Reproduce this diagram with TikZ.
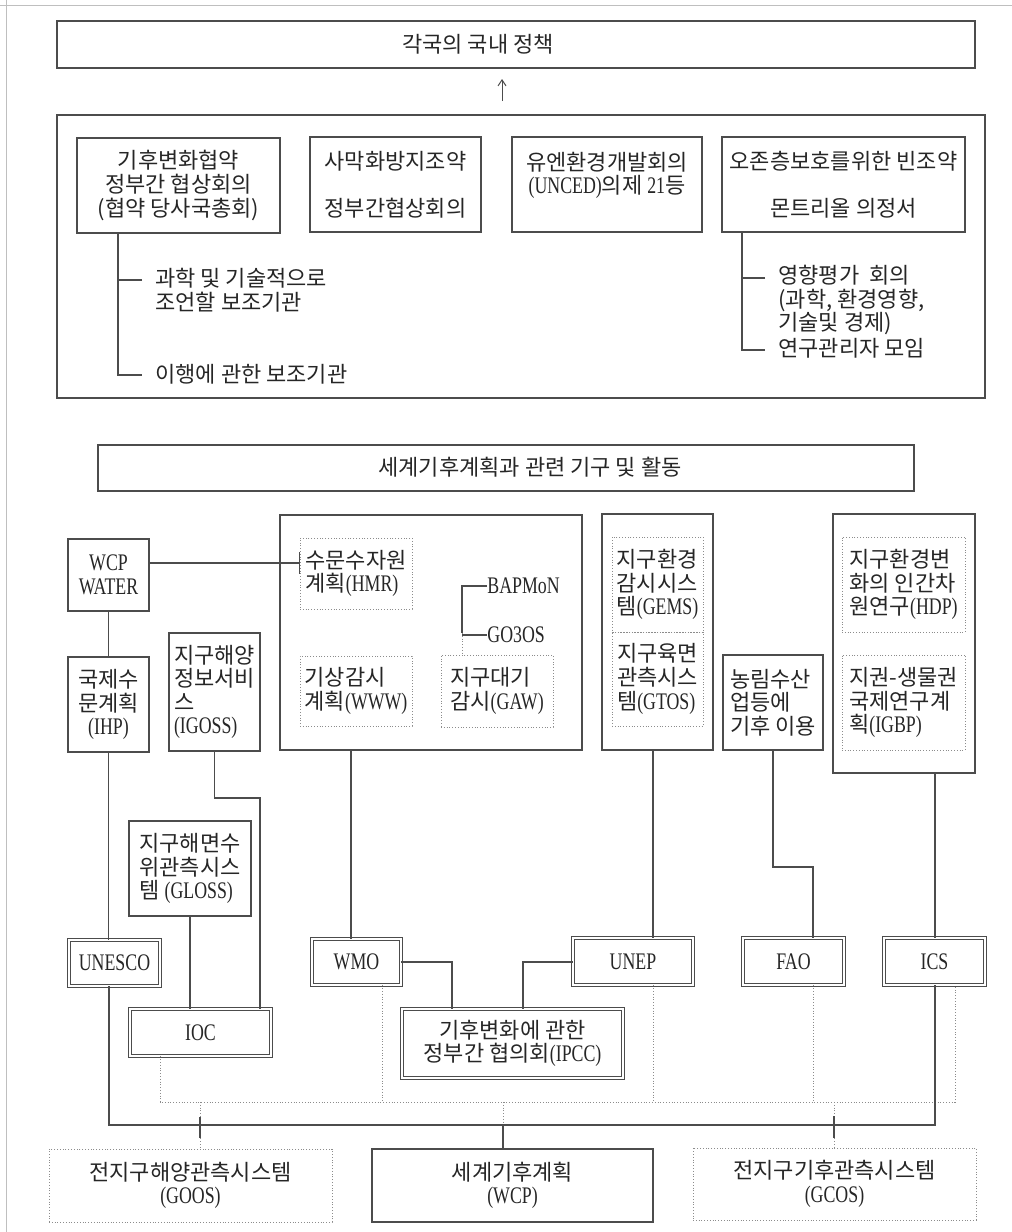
\documentclass[tikz,border=0pt]{standalone}
\usepackage{fontspec}
\setmainfont{Noto Sans CJK KR}
\newfontfamily\latf[FakeStretch=0.75, Scale=1.08]{Liberation Serif}
\newcommand\enx[1]{{\latf #1}}
\newcommand\kfont{\fontsize{11}{11.8}\selectfont}
\usetikzlibrary{arrows.meta}
\tikzset{
  spanbox/.style n args={4}{at={({(#1+#3)/2},{(#2+#4)/2})}, minimum width={(#3-#1)*0.5pt}, minimum height={(#4-#2)*0.5pt}},
  conn/.style={draw=black!70, line width=0.6pt},
  dconn/.style={draw=black!45, line width=0.5pt, dash pattern=on 0.5pt off 0.9pt},
  box/.style={rectangle, draw=black!70, line width=0.6pt, inner sep=0pt, font=\kfont, text=black!85, anchor=center},
  dbox/.style={box, double, double distance=1.1pt, line width=0.45pt},
  dotbox/.style={rectangle, draw=black!45, line width=0.5pt, dash pattern=on 0.5pt off 0.9pt, inner sep=0pt, font=\kfont, text=black!85, anchor=center},
  txt/.style={inner sep=0pt, font=\kfont, text=black!85},
  lat/.style={font=\kfont\latf},
}
\begin{document}
\begin{tikzpicture}[x=0.5pt,y=-0.5pt]
\useasboundingbox (0,0) rectangle (1012,1232);
% scan border
\draw[black!25, line width=0.4pt] (0,5) -- (1012,5);
\draw[black!25, line width=0.4pt] (6,0) -- (6,1232);

% ---------- upper part ----------
\node[box, spanbox={57}{21}{975}{68}] (top) {};
\node[txt] (toptxt) at (478,44) {각국의 국내 정책};
\coordinate (arS) at (502,101);
\coordinate (arE) at (502,79);
\draw[conn, line width=0.5pt, -{Straight Barb[length=3pt,width=4pt]}] (arS) -- (arE);

\node[box, spanbox={57}{115}{985}{398}] (upper) {};
\node[box, spanbox={77}{138}{280}{233}, align=center] (b1) {기후변화협약\\정부간 협상회의\\(협약 당사국총회)};
\node[box, spanbox={310}{137}{481}{232}, align=center] (b2) {사막화방지조약\\\mbox{}\\정부간협상회의};
\node[box, spanbox={512}{137}{702}{232}, align=center] (b3) {유엔환경개발회의\\\enx{(UNCED)}의제 \enx{21}등\\\mbox{}};
\node[box, spanbox={722}{137}{965}{232}, align=center] (b4) {오존층보호를위한 빈조약\\\mbox{}\\몬트리올 의정서};

\coordinate (lk) at (118,375);
\coordinate (l1) at (142,280);
\coordinate (l2) at (142,375);
\draw[conn] (b1.south -| lk) -- (lk) -- (l2);
\draw[conn] (l1) -- (l1 -| lk);
\node[txt, anchor=west, align=left] (t1) at (155,290) {과학 및 기술적으로\\조언할 보조기관};
\node[txt, anchor=west] (t2) at (155,374) {이행에 관한 보조기관};

\coordinate (rk) at (742,350);
\coordinate (r1) at (765,278);
\coordinate (r2) at (765,350);
\draw[conn] (b4.south -| rk) -- (rk) -- (r2);
\draw[conn] (r1) -- (r1 -| rk);
\node[txt, anchor=west, align=left] (t3) at (778,300) {영향평가~~회의\\(과학, 환경영향,\\기술및 경제)};
\node[txt, anchor=west] (t4) at (778,348) {연구관리자 모임};

% ---------- middle part ----------
\node[box, spanbox={98}{445}{914}{491}] (midt) {};
\node[txt] (midtxt) at (530,467) {세계기후계획과 관련 기구 및 활동};

\node[box, lat, spanbox={68}{539}{149}{611}, align=center] (wcpw) {WCP\\WATER};
\node[box, spanbox={68}{657}{149}{752}, align=center] (ihp) {국제수\\문계획\\\enx{(IHP)}};
\node[box, spanbox={169}{633}{260}{751}, align=left] (igoss) {지구해양\\정보서비\\스\\\enx{(IGOSS)}};
\node[box, spanbox={129}{821}{251}{916}, align=left] (gloss) {지구해면수\\위관측시스\\템 \enx{(GLOSS)}};

\node[box, spanbox={280}{515}{582}{750}] (wmoG) {};
\node[dotbox, spanbox={300}{538}{412}{609}, align=left] (hmr) {수문수자원\\계획\enx{(HMR)}};
\node[dotbox, spanbox={300}{656}{412}{726}, align=left] (www) {기상감시\\계획\enx{(WWW)}};
\node[dotbox, spanbox={441}{655}{553}{727}, align=left] (gaw) {지구대기\\감시\enx{(GAW)}};
\node[txt, lat, anchor=west] (bap) at (487,586) {BAPMoN};
\node[txt, lat, anchor=west] (go3) at (487,635) {GO3OS};
\coordinate (bk) at (462,586);
\coordinate (bm) at (462,633);
\draw[conn] (bap.west) -- (bk) -- (bm);
\draw[dconn] (bm) -- (gaw.north -| bk);
\draw[conn] (go3.west) -- (go3.west -| bk);

\node[box, spanbox={602}{514}{713}{750}] (gems) {};
\node[dotbox, spanbox={612}{537}{703}{632}, align=left] (gemsA) {지구환경\\감시시스\\템\enx{(GEMS)}};
\node[dotbox, spanbox={612}{632}{703}{726}, align=left] (gemsB) {지구육면\\관측시스\\템\enx{(GTOS)}};
\node[box, spanbox={723}{655}{823}{750}, align=left] (agri) {농림수산\\업등에\\기후 이용};
\node[box, spanbox={833}{514}{975}{773}] (rgrp) {};
\node[dotbox, spanbox={842}{537}{965}{632}, align=left] (hdp) {지구환경변\\화의 인간차\\원연구\enx{(HDP)}};
\node[dotbox, spanbox={842}{655}{965}{750}, align=left] (igbp) {지권-생물권\\국제연구계\\획\enx{(IGBP)}};

% WCP WATER -> HMR
\coordinate (hy) at (0,563);
\draw[conn] (wcpw.east |- hy) -- (hmr.west |- hy);
\draw[conn] ([yshift=5.5pt]hmr.west |- hy) -- ([yshift=-5.5pt]hmr.west |- hy);

% ---------- organisations ----------
\node[dbox, lat, spanbox={69}{940}{160}{986}] (unesco) {UNESCO};
\node[dbox, lat, spanbox={130}{1009}{271}{1056}] (ioc) {IOC};
\node[dbox, lat, spanbox={312}{939}{401}{985}] (wmo) {WMO};
\node[dbox, spanbox={402}{1009}{623}{1078}, align=center] (ipcc) {기후변화에 관한\\정부간 협의회\enx{(IPCC)}};
\node[dbox, lat, spanbox={573}{938}{693}{985}] (unep) {UNEP};
\node[dbox, lat, spanbox={743}{938}{844}{985}] (fao) {FAO};
\node[dbox, lat, spanbox={884}{938}{985}{985}] (ics) {ICS};

% bottom systems
\node[dotbox, spanbox={49}{1149}{332}{1222}, align=center] (goos) {전지구해양관측시스템\\\enx{(GOOS)}};
\node[box, spanbox={372}{1149}{653}{1222}, align=center] (wcp) {세계기후계획\\\enx{(WCP)}};
\node[dotbox, spanbox={693}{1148}{976}{1220}, align=center] (gcos) {전지구기후관측시스템\\\enx{(GCOS)}};

% left connectors
\draw[conn] (wcpw.south) -- (ihp.north);
\draw[conn] (ihp.south) -- (ihp.south |- unesco.north);
\coordinate (ig) at (260,798);
\draw[conn] (igoss.south) |- (ig) -- (ig |- ioc.north);
\draw[conn] (gloss.south) -- (gloss.south |- ioc.north);

% middle connectors
\coordinate (wx) at (351,750);
\draw[conn] (wmoG.south -| wx) -- (wmo.north -| wx);
\coordinate (wi) at (452,962);
\draw[conn] (wmo.east |- wi) -- (wi) -- (wi |- ipcc.north);
\coordinate (ui) at (523,962);
\draw[conn] (unep.west |- ui) -- (ui) -- (ui |- ipcc.north);
\coordinate (gx) at (653,750);
\draw[conn] (gems.south -| gx) -- (unep.north -| gx);
\coordinate (a1) at (773,867);
\coordinate (a2) at (813,867);
\draw[conn] (agri.south -| a1) -- (a1) -- (a2) -- (fao.north -| a2);
\coordinate (ix) at (935,773);
\draw[conn] (rgrp.south -| ix) -- (ics.north -| ix);

% dotted bus
\coordinate (db1) at (160,1102);
\coordinate (db2) at (955,1102);
\draw[dconn] (ioc.south -| db1) -- (db1) -- (db2) -- (ics.south -| db2);
\coordinate (dw) at (382,1102);
\coordinate (du) at (653,1102);
\coordinate (df) at (813,1102);
\draw[dconn] (wmo.south -| dw) -- (dw);
\draw[dconn] (unep.south -| du) -- (du);
\draw[dconn] (fao.south -| df) -- (df);
\coordinate (dg) at (200,1102);
\coordinate (dc) at (503,1102);
\coordinate (dk) at (834,1102);
\coordinate (sc) at (503,1125);
\draw[dconn] (dg) -- (goos.north -| dg);
\draw[dconn] (dk) -- (gcos.north -| dk);
\draw[dconn] (dc) -- (sc);

% solid bus
\coordinate (sb) at (109,1125);
\draw[conn] (unesco.south -| sb) -- (sb) -| (ics.south -| ix);
\coordinate (sg1) at (200,1117);
\coordinate (sg2) at (200,1138);
\draw[conn] (sg1) -- (sg2);
\coordinate (sk1) at (834,1116);
\coordinate (sk2) at (834,1138);
\draw[conn] (sk1) -- (sk2);
\draw[conn] (sc) -- (wcp.north -| sc);
\end{tikzpicture}
\end{document}
